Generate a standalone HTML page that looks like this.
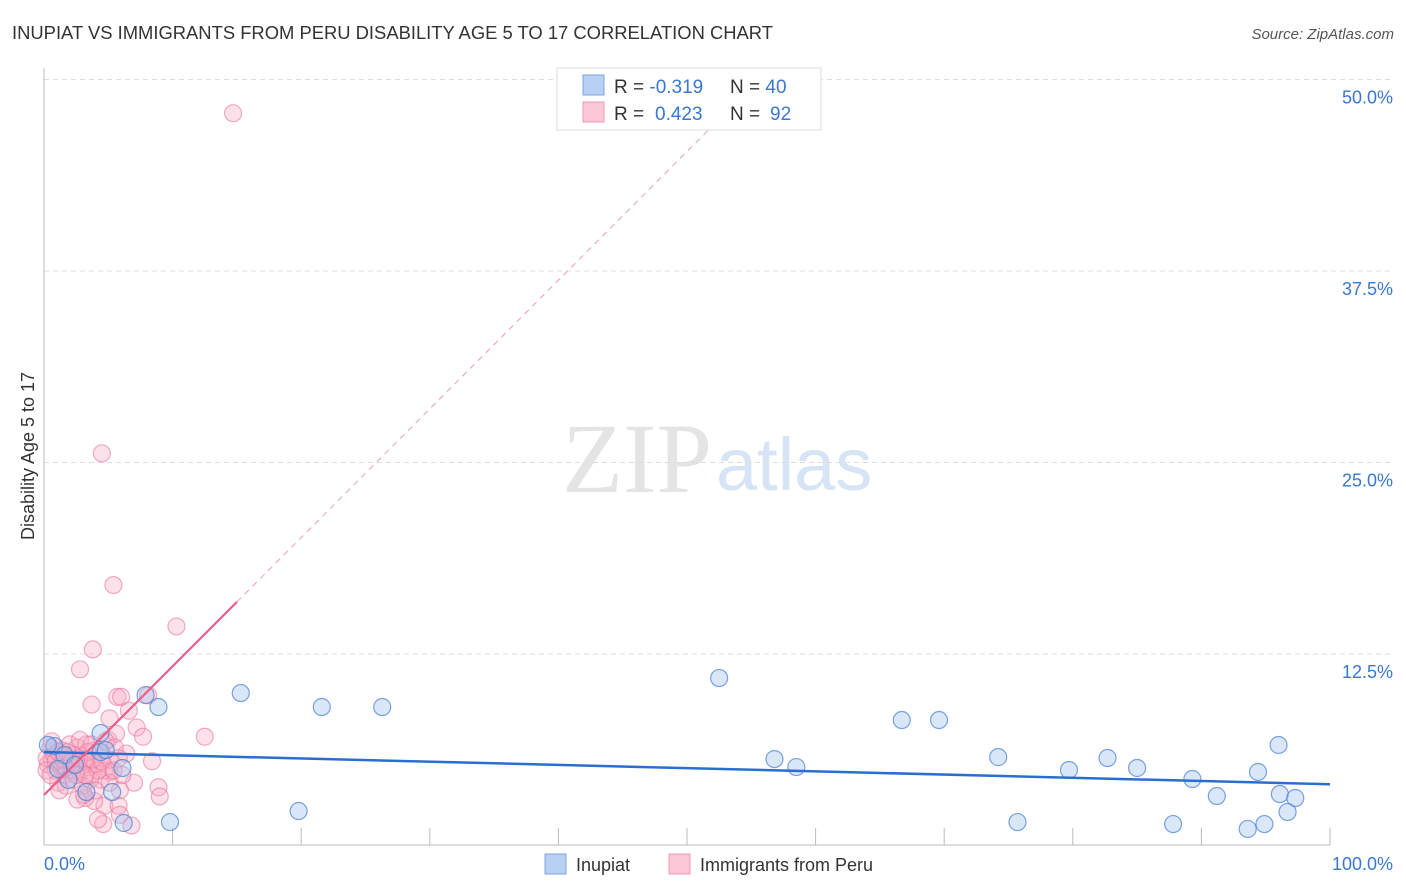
<!DOCTYPE html>
<html><head><meta charset="utf-8"><style>
body{margin:0;background:#fff;font-family:"Liberation Sans",sans-serif}
svg{display:block}
</style></head><body>
<svg width="1406" height="892" xmlns="http://www.w3.org/2000/svg">
<text x="12" y="39" font-size="18.4" fill="#333">INUPIAT VS IMMIGRANTS FROM PERU DISABILITY AGE 5 TO 17 CORRELATION CHART</text>
<text x="1394" y="39" font-size="15" fill="#555" font-style="italic" text-anchor="end">Source: ZipAtlas.com</text>
<text x="712" y="492" font-size="100" fill="#e4e4e4" text-anchor="end" font-family="Liberation Serif">ZIP</text>
<text x="716" y="490" font-size="74" fill="#d6e4f5">atlas</text>
<g id="grid"></g>
<g id="axes"></g>
<g id="pts"></g>
<g id="lines"></g>
<text transform="translate(34,456) rotate(-90)" font-size="18" fill="#333" text-anchor="middle">Disability Age 5 to 17</text>
<text x="44" y="870" font-size="18" fill="#3a78d0">0.0%</text>
<text x="1393" y="870" font-size="18" fill="#3a78d0" text-anchor="end">100.0%</text>
<g>
<rect x="557" y="68" width="264" height="62" fill="#fff" stroke="#ddd"/>
<rect x="583" y="75" width="21" height="20" fill="#b8d0f4" stroke="#7aa4e0"/>
<rect x="583" y="102" width="21" height="20" fill="#fcc8d6" stroke="#ef9ab2"/>
<text x="614" y="93" font-size="19" fill="#333">R = <tspan fill="#3a78d0">-0.319</tspan><tspan x="730">N = </tspan><tspan fill="#3a78d0">40</tspan></text>
<text x="614" y="120" font-size="19" fill="#333">R = <tspan fill="#3a78d0" x="655">0.423</tspan><tspan x="730">N = </tspan><tspan fill="#3a78d0" x="770">92</tspan></text>
</g>
<g>
<rect x="545" y="854" width="21" height="20" fill="#b8d0f4" stroke="#7aa4e0"/>
<text x="576" y="871" font-size="18" fill="#333">Inupiat</text>
<rect x="669" y="854" width="21" height="20" fill="#fcc8d6" stroke="#ef9ab2"/>
<text x="700" y="871" font-size="18" fill="#333">Immigrants from Peru</text>
</g>
</svg>
<script>
const yTicks=[12.5,25,37.5,50];
const yTickLabels=["12.5%","25.0%","37.5%","50.0%"];
const xTicks=[10,20,30,40,50,60,70,80,90,100];
const blueX=[15.3,21.6,26.3,52.5,66.7,69.6,56.8,58.5,74.2,79.7,82.7,85.0,89.3,91.2,94.4,96.0,96.1,97.3,96.7,94.9,93.6,87.8,75.7,19.8,9.8,6.2,7.9,8.9,4.4,6.1,5.3,3.3,1.9,0.8,0.3,4.4,4.8,1.6,2.4,1.1];
const blueY=[9.95,9.04,9.04,10.93,8.19,8.19,5.64,5.12,5.77,4.93,5.71,5.06,4.34,3.23,4.80,6.56,3.36,3.10,2.19,1.40,1.08,1.40,1.53,2.25,1.53,1.47,9.82,9.04,7.34,5.06,3.49,3.49,4.28,6.49,6.56,6.10,6.23,5.9,5.25,4.99];
const pinkX=[14.7,4.5,5.4,10.3,3.8,2.8,3.7,5.7,6.0,8.1,6.6,12.5,5.1,7.2,7.7,5.0,5.6,6.4,8.4,8.9,9.0,7.0,5.9,5.1,4.7,5.8,5.9,4.6,6.8,4.2,3.9,3.2,
0.3,0.6,0.9,1.2,1.6,1.9,2.2,2.5,2.8,3.1,3.4,3.7,4.0,4.4,1.4,2.0,2.6,3.3,3.9,0.5,1.1,1.7,2.3,3.0,3.6,4.7,5.1,0.2,0.8,4.4,2.8,4.8,5.5,1.7,2.3,3.4,4.0,1.2,0.6,3.1,2.6,5.1,6.1,5.8,0.2,0.9,1.5,2.1,2.7,3.3,3.8,4.2,
0.5,1.1,1.8,2.5,3.2,3.7,4.5,5.4];
const pinkY=[47.8,25.6,17.0,14.3,12.8,11.5,9.2,9.7,9.7,9.8,8.8,7.1,8.3,7.7,7.1,6.9,7.3,6.0,5.5,3.8,3.2,4.1,3.6,4.8,2.6,2.6,2.0,1.4,1.3,1.7,2.9,3.1,
5.3,5.6,4.9,5.3,4.6,5.6,4.9,5.3,4.8,5.6,5.1,4.6,5.3,5.7,6.2,6.6,6.4,6.6,6.2,6.4,4.1,3.9,4.3,3.9,4.3,4.9,5.6,5.7,5.9,4.3,6.9,6.8,6.4,5.1,5.9,6.1,3.6,3.6,6.8,3.3,3.0,4.1,4.6,5.7,4.9,5.5,5.6,5.5,5.7,5.5,5.6,4.9,
4.6,6.1,6.1,4.6,4.6,6.6,5.5,4.9];
const blueTrend=[6.1,4.0];
const pinkTrend=[3.3,0.84];
const NS="http://www.w3.org/2000/svg";
const X=v=>44+v*12.86, Y=v=>845.5-v*15.32;
function mk(t,a,p){const e=document.createElementNS(NS,t);for(const k in a)e.setAttribute(k,a[k]);p.appendChild(e);return e;}
const grid=document.getElementById('grid'),axes=document.getElementById('axes'),pts=document.getElementById('pts'),lines=document.getElementById('lines');
yTicks.forEach((t,i)=>{
 const l=mk('line',{x1:44,x2:1393,y1:Y(t),y2:Y(t),stroke:'#ddd','stroke-dasharray':'5,4'},grid);
 
 
 const tx=mk('text',{x:1393,y:Y(t)+24,'font-size':18,fill:'#3a78d0','text-anchor':'end'},grid);
 tx.textContent=yTickLabels[i];
 
 
});
const ya=mk('line',{x1:44,x2:44,y1:68,y2:845,stroke:'#bbb'},axes);


const xa=mk('line',{x1:44,x2:1330,y1:845,y2:845,stroke:'#bbb'},axes);


xTicks.forEach(t=>{
 const l=mk('line',{x1:X(t),x2:X(t),y1:828,y2:845,stroke:'#bbb'},axes);
 
 
});
pinkX.forEach((x,i)=>{
 const c=mk('circle',{cx:X(x),cy:Y(pinkY[i]),r:8.5,fill:'rgba(248,170,195,0.35)',stroke:'rgba(232,120,155,0.6)','stroke-width':1.2},pts);
 
 
});
blueX.forEach((x,i)=>{
 const c=mk('circle',{cx:X(x),cy:Y(blueY[i]),r:8.5,fill:'rgba(160,195,240,0.4)',stroke:'rgba(70,125,210,0.7)','stroke-width':1.2},pts);
 
 
});
const bt=mk('line',{x1:X(0),y1:Y(blueTrend[0]),x2:X(100),y2:Y(blueTrend[1]),stroke:'#2a6fd0','stroke-width':2.5},lines);


const pd=mk('line',{x1:X(15),y1:Y(pinkTrend[0]+pinkTrend[1]*15),x2:X(52),y2:Y(pinkTrend[0]+pinkTrend[1]*52),stroke:'#e8a0b4','stroke-width':1,'stroke-dasharray':'6,5'},lines);


const pt=mk('line',{x1:X(0),y1:Y(pinkTrend[0]),x2:X(15),y2:Y(pinkTrend[0]+pinkTrend[1]*15),stroke:'#e8608a','stroke-width':2.2},lines);


</script>
</body></html>
